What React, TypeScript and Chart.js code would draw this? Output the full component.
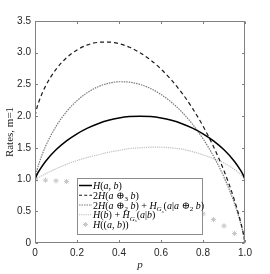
import { useEffect, useRef } from 'react';
import { Chart, registerables } from 'chart.js';

Chart.register(...registerables);

// ---- data ----
const P = [0, 0.01, 0.02, 0.05, 0.1, 0.15, 0.2, 0.25, 0.3, 0.35, 0.4, 0.45, 0.5, 0.55, 0.6, 0.65, 0.7, 0.75, 0.8, 0.85, 0.9, 0.95, 0.98, 0.99, 1];
const H_AB = [1, 1.081, 1.141, 1.286, 1.469, 1.61, 1.722, 1.811, 1.881, 1.934, 1.971, 1.993, 2, 1.993, 1.971, 1.934, 1.881, 1.811, 1.722, 1.61, 1.469, 1.286, 1.141, 1.081, 1];
const H_XOR3 = [2, 2.142, 2.243, 2.473, 2.738, 2.92, 3.044, 3.123, 3.163, 3.168, 3.142, 3.086, 3.0, 2.886, 2.742, 2.568, 2.363, 2.123, 1.844, 1.52, 1.138, 0.673, 0.323, 0.182, 0];
const H_XOR2_GS = [1, 1.152, 1.263, 1.523, 1.838, 2.07, 2.244, 2.373, 2.463, 2.518, 2.542, 2.536, 2.5, 2.436, 2.342, 2.218, 2.063, 1.873, 1.644, 1.37, 1.038, 0.623, 0.303, 0.172, 0];
const H_B_GS = [1, 1.02, 1.04, 1.09, 1.17, 1.24, 1.3, 1.35, 1.39, 1.43, 1.46, 1.49, 1.5, 1.51, 1.51, 1.5, 1.48, 1.44, 1.39, 1.33, 1.26, 1.16, 1.08, 1.05, 1.0];
const STAR_P = [0, 0.05, 0.1, 0.15, 0.8, 0.85, 0.9, 0.95, 1];
const STAR_V = [1.0, 0.99, 0.98, 0.97, 0.46, 0.37, 0.27, 0.15, 0];
const X_TICKS = [0, 0.2, 0.4, 0.6, 0.8, 1];
const Y_TICKS = [0, 0.5, 1, 1.5, 2, 2.5, 3, 3.5];
const X_TITLE = 'p';
const Y_TITLE = 'Rates, m=1';

type Seg = [string, string];
const LEGEND_ENTRIES: Seg[][] = [
  [['H', 'i'], ['(', 'n'], ['a', 'i'], [', ', 'n'], ['b', 'i'], [')', 'n']],
  [['2', 'n'], ['H', 'i'], ['(', 'n'], ['a', 'i'], [' ⊕', 'n'], ['3', 'sub'], [' ', 'n'], ['b', 'i'], [')', 'n']],
  [['2', 'n'], ['H', 'i'], ['(', 'n'], ['a', 'i'], [' ⊕', 'n'], ['2', 'sub'], [' ', 'n'], ['b', 'i'], [')', 'n'], [' + ', 'n'], ['H', 'i'], ['G', 'subi'], ['s', 'subsub'], ['(', 'n'], ['a', 'i'], ['|', 'n'], ['a', 'i'], [' ⊕', 'n'], ['2', 'sub'], [' ', 'n'], ['b', 'i'], [')', 'n']],
  [['H', 'i'], ['(', 'n'], ['b', 'i'], [')', 'n'], [' + ', 'n'], ['H', 'i'], ['G', 'subi'], ['s', 'subsub'], ['(', 'n'], ['a', 'i'], ['|', 'n'], ['b', 'i'], [')', 'n']],
  [['H', 'i'], ['((', 'n'], ['a', 'i'], [', ', 'n'], ['b', 'i'], ['))', 'n']],
];

const SERIF = '"Liberation Serif", "DejaVu Serif", serif';
const SANS = '"Liberation Sans", Arial, sans-serif';

const STYLES = [
  { color: '#000000', width: 1.5, dash: [] as number[] },
  { color: '#1a1a1a', width: 1.2, dash: [4, 3] },
  { color: '#7a7a7a', width: 1.2, dash: [1.5, 1] },
  { color: '#bdbdbd', width: 1.2, dash: [1.2, 1] },
];

const segFont = (s: string) => {
  switch (s) {
    case 'i': return { font: `italic 10px ${SERIF}`, dy: 0 };
    case 'sub': return { font: `7px ${SERIF}`, dy: 2.5 };
    case 'subi': return { font: `italic 7px ${SERIF}`, dy: 2.5 };
    case 'subsub': return { font: `italic 5px ${SERIF}`, dy: 4 };
    default: return { font: `10px ${SERIF}`, dy: 0 };
  }
};

const decorPlugin = {
  id: 'decor',
  afterDatasetsDraw(chart: any) {
    const ctx = chart.ctx as CanvasRenderingContext2D;
    const ca = chart.chartArea;
    const xs = chart.scales.x;
    const ys = chart.scales.y;
    ctx.save();
    // axes box
    ctx.strokeStyle = '#808080';
    ctx.lineWidth = 1;
    ctx.setLineDash([]);
    const L = Math.round(ca.left) + 0.5, R = Math.round(ca.right) - 0.5;
    const T = Math.round(ca.top) + 0.5, B = Math.round(ca.bottom) - 0.5;
    ctx.strokeRect(L, T, R - L, B - T);
    // inner ticks
    ctx.beginPath();
    X_TICKS.forEach((v) => {
      const x = Math.round(xs.getPixelForValue(v)) + 0.5;
      ctx.moveTo(x, B); ctx.lineTo(x, B - 2.5);
      ctx.moveTo(x, T); ctx.lineTo(x, T + 2.5);
    });
    Y_TICKS.forEach((v) => {
      const y = Math.round(ys.getPixelForValue(v)) + 0.5;
      ctx.moveTo(L, y); ctx.lineTo(L + 2.5, y);
      ctx.moveTo(R, y); ctx.lineTo(R - 2.5, y);
    });
    ctx.stroke();

    // axis titles
    ctx.fillStyle = '#1a1a1a';
    ctx.textAlign = 'center';
    ctx.textBaseline = 'middle';
    ctx.font = `italic 11px ${SERIF}`;
    ctx.fillText(X_TITLE, (ca.left + ca.right) / 2, ca.bottom + 22);
    ctx.save();
    ctx.translate(10, (ca.top + ca.bottom) / 2);
    ctx.rotate(-Math.PI / 2);
    ctx.font = `11px ${SERIF}`;
    ctx.fillText(Y_TITLE, 0, 0);
    ctx.restore();

    // legend
    const lx = Math.round(ca.left + 41.5) + 0.5;
    const ly = Math.round(ca.top + 157) + 0.5;
    const lw = 125;
    const lh = 56;
    ctx.fillStyle = '#ffffff';
    ctx.fillRect(lx, ly, lw, lh);
    ctx.strokeStyle = '#8c8c8c';
    ctx.lineWidth = 1;
    ctx.strokeRect(lx, ly, lw, lh);
    LEGEND_ENTRIES.forEach((segs, i) => {
      const cy = ly + 7 + i * 9.75;
      const x0 = lx + 1.5;
      const x1 = lx + 14.5;
      if (i < 4) {
        const st = STYLES[i];
        ctx.beginPath();
        ctx.strokeStyle = st.color;
        ctx.lineWidth = st.width;
        ctx.setLineDash(i === 1 ? [3, 2.2] : st.dash);
        ctx.moveTo(x0, cy);
        ctx.lineTo(x1, cy);
        ctx.stroke();
        ctx.setLineDash([]);
      } else {
        const cx = (x0 + x1) / 2;
        ctx.strokeStyle = '#c8c8c8';
        ctx.lineWidth = 1;
        ctx.beginPath();
        const r = 2.5;
        ctx.moveTo(cx - r, cy); ctx.lineTo(cx + r, cy);
        ctx.moveTo(cx, cy - r); ctx.lineTo(cx, cy + r);
        ctx.moveTo(cx - r * 0.7, cy - r * 0.7); ctx.lineTo(cx + r * 0.7, cy + r * 0.7);
        ctx.moveTo(cx - r * 0.7, cy + r * 0.7); ctx.lineTo(cx + r * 0.7, cy - r * 0.7);
        ctx.stroke();
      }
      let x = x1 + 1;
      ctx.fillStyle = '#000000';
      ctx.textAlign = 'left';
      ctx.textBaseline = 'alphabetic';
      segs.forEach(([t, s]) => {
        const f = segFont(s);
        ctx.font = f.font;
        ctx.fillText(t, x, cy + 3.5 + f.dy);
        x += ctx.measureText(t).width;
      });
    });
    ctx.restore();
  },
};

export default function App() {
  const ref = useRef<HTMLCanvasElement | null>(null);
  useEffect(() => {
    const prev = document.body.style.margin;
    document.body.style.margin = '0';
    const mk = (ys: number[]) => P.map((p, i) => ({ x: p, y: ys[i] }));
    const lineDs = (label: string, ys: number[], idx: number) => ({
      type: 'line' as const,
      label,
      data: mk(ys),
      borderColor: STYLES[idx].color,
      borderWidth: STYLES[idx].width,
      borderDash: STYLES[idx].dash,
      pointRadius: 0,
      fill: false,
      cubicInterpolationMode: 'monotone' as const,
    });
    const chart = new Chart(ref.current as HTMLCanvasElement, {
      type: 'line',
      data: {
        datasets: [
          lineDs('H(a,b)', H_AB, 0),
          lineDs('2H(a⊕3b)', H_XOR3, 1),
          lineDs('2H(a⊕2b)+HGs(a|a⊕2b)', H_XOR2_GS, 2),
          lineDs('H(b)+HGs(a|b)', H_B_GS, 3),
          {
            type: 'line',
            label: 'H((a,b))',
            data: STAR_P.map((p, i) => ({ x: p, y: STAR_V[i] })),
            showLine: false,
            pointStyle: 'star',
            pointRadius: 2.6,
            borderColor: '#c8c8c8',
            backgroundColor: '#c8c8c8',
            pointBorderWidth: 1,
          } as any,
        ],
      },
      options: {
        animation: false,
        responsive: false,
        events: [],
        layout: { padding: { top: 21, right: 25, left: 0, bottom: 0 } },
        plugins: { legend: { display: false }, tooltip: { enabled: false } },
        scales: {
          x: {
            type: 'linear',
            min: 0,
            max: 1,
            afterBuildTicks: (s: any) => { s.ticks = X_TICKS.map((v) => ({ value: v })); },
            afterFit: (s: any) => { s.height = 31; },
            grid: { display: false, drawTicks: false },
            border: { display: false },
            ticks: { padding: 4, maxRotation: 0, autoSkip: false, color: '#262626', font: { family: SANS, size: 10 } },
          },
          y: {
            type: 'linear',
            min: 0,
            max: 3.5,
            afterBuildTicks: (s: any) => { s.ticks = Y_TICKS.map((v) => ({ value: v })); },
            afterFit: (s: any) => { s.width = 35; },
            grid: { display: false, drawTicks: false },
            border: { display: false },
            ticks: { padding: 4, autoSkip: false, color: '#262626', font: { family: SANS, size: 10 } },
          },
        },
      },
      plugins: [decorPlugin],
    });
    return () => {
      chart.destroy();
      document.body.style.margin = prev;
    };
  }, []);
  return (
    <div style={{ position: 'fixed', left: 0, top: 0, width: 270, height: 274, background: '#fff' }}>
      <canvas ref={ref} width={270} height={274} style={{ display: 'block', width: 270, height: 274 }} />
    </div>
  );
}
